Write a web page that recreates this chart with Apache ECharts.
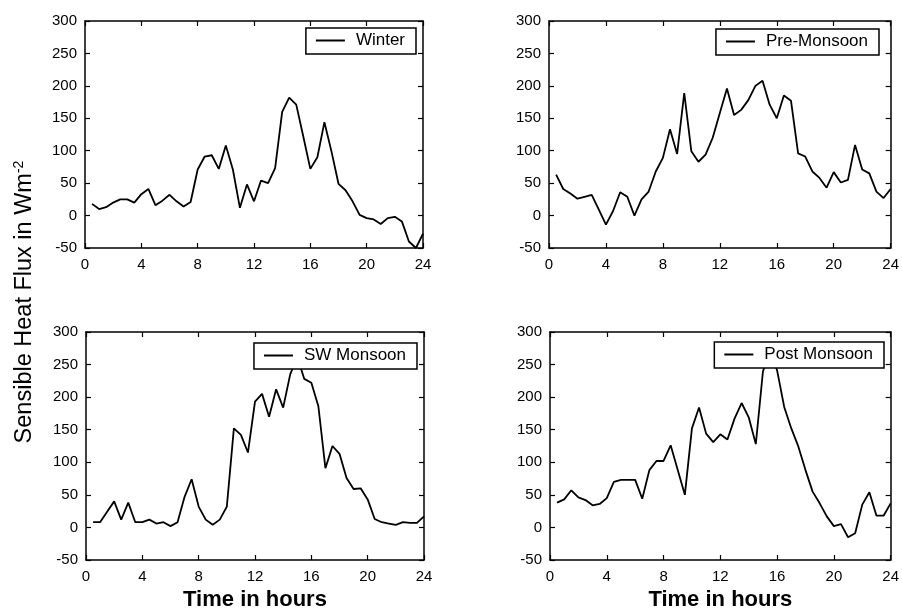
<!DOCTYPE html>
<html>
<head>
<meta charset="utf-8">
<script src="https://cdn.jsdelivr.net/npm/echarts@6/dist/echarts.min.js"></script>
<style>html,body{margin:0;padding:0;background:#fff}#c{width:902px;height:612px}</style>
</head>
<body>
<div id="c"></div>
<script>
var hours = [0.5,1,1.5,2,2.5,3,3.5,4,4.5,5,5.5,6,6.5,7,7.5,8,8.5,9,9.5,10,10.5,11,11.5,12,12.5,13,13.5,14,14.5,15,15.5,16,16.5,17,17.5,18,18.5,19,19.5,20,20.5,21,21.5,22,22.5,23,23.5,24];
var winter = [18,10,13,20,25,25,20,33,41,16,23,32,22,14,21,71,91,93,72,108,71,12,48,22,54,50,73,160,182,171,122,72,90,144,99,49,39,22,1,-4,-6,-13,-4,-2,-9,-40,-50,-28];
var preMonsoon = [63,41,34,26,29,32,9,-14,7,36,29,0,25,37,68,89,133,95,189,99,83,94,120,158,196,155,163,178,200,208,171,150,185,177,96,91,68,58,43,67,51,55,109,71,65,37,27,41];
var swMonsoon = [8,8,24,40,12,38,8,8,12,6,8,2,8,47,74,32,12,4,12,32,152,142,115,193,205,170,212,184,235,262,228,222,186,91,125,113,76,59,60,43,13,8,6,4,8,7,7,17];
var postMonsoon = [38,43,57,46,42,34,36,45,70,73,73,73,44,88,102,102,126,88,50,152,184,144,131,143,135,167,191,169,128,239,275,241,185,152,124,88,55,37,17,2,5,-15,-9,35,54,18,18,37];
var seriesNames = ['Winter','Pre-Monsoon','SW Monsoon','Post Monsoon'];
var seriesValues = [winter, preMonsoon, swMonsoon, postMonsoon];
var xTicks = {min:0, max:24, interval:4};
var yTicks = {min:-50, max:300, interval:50};

var FONT = '"Liberation Sans", Arial, sans-serif';
var grids = [
  {left:85, top:21, width:338, height:227},
  {left:549, top:21, width:342, height:227},
  {left:86, top:332, width:338, height:228},
  {left:550, top:332, width:342, height:228}
];
var legendPos = [
  {right:486, top:28},
  {right:23, top:29},
  {right:485, top:343},
  {right:18, top:342}
];

var option = {
  animation:false,
  backgroundColor:'#fff',
  grid:[], xAxis:[], yAxis:[], series:[], legend:[],
  graphic:[{
    type:'text', x:25, y:302, rotation:Math.PI/2,
    style:{
      text:'{m|Sensible Heat Flux in Wm}{s|-2}',
      align:'center', verticalAlign:'middle',
      rich:{
        m:{fontSize:23.5, fontFamily:FONT, fill:'#000', fontWeight:'normal'},
        s:{fontSize:14, fontFamily:FONT, fill:'#000', verticalAlign:'top', padding:[0,0,12,0]}
      }
    }
  }]
};

function lineStyleAxis(){ return {show:true, onZero:false, lineStyle:{color:'#000', width:1.5}}; }

for (var i=0;i<4;i++){
  var g = grids[i];
  option.grid.push({left:g.left, top:g.top, width:g.width, height:g.height, show:false});
  var bottomRow = i>=2;
  option.xAxis.push({
    type:'value', gridIndex:i, min:xTicks.min, max:xTicks.max, interval:xTicks.interval,
    position:'bottom',
    axisLine:lineStyleAxis(),
    axisTick:{show:true, inside:true, length:5, lineStyle:{color:'#000', width:1.2}},
    axisLabel:{color:'#000', fontSize:15, fontFamily:FONT, margin:9},
    splitLine:{show:false},
    name: bottomRow ? 'Time in hours' : '',
    nameLocation:'middle', nameGap:29,
    nameTextStyle:{color:'#000', fontSize:22, fontFamily:FONT, fontWeight:'bold'}
  });
  option.xAxis.push({
    type:'value', gridIndex:i, min:xTicks.min, max:xTicks.max, interval:xTicks.interval,
    position:'top',
    axisLine:lineStyleAxis(),
    axisTick:{show:true, inside:true, length:5, lineStyle:{color:'#000', width:1.2}},
    axisLabel:{show:false}, splitLine:{show:false}
  });
  option.yAxis.push({
    type:'value', gridIndex:i, min:yTicks.min, max:yTicks.max, interval:yTicks.interval,
    position:'left',
    axisLine:lineStyleAxis(),
    axisTick:{show:true, inside:true, length:5, lineStyle:{color:'#000', width:1.2}},
    axisLabel:{color:'#000', fontSize:15, fontFamily:FONT, margin:8},
    splitLine:{show:false}
  });
  option.yAxis.push({
    type:'value', gridIndex:i, min:yTicks.min, max:yTicks.max, interval:yTicks.interval,
    position:'right',
    axisLine:lineStyleAxis(),
    axisTick:{show:true, inside:true, length:5, lineStyle:{color:'#000', width:1.2}},
    axisLabel:{show:false}, splitLine:{show:false}
  });
  var vals = seriesValues[i];
  var data = [];
  for (var k=0;k<hours.length;k++) data.push([hours[k], vals[k]]);
  option.series.push({
    type:'line', name:seriesNames[i], xAxisIndex:2*i, yAxisIndex:2*i,
    data:data, showSymbol:false, symbol:'none', clip:true,
    lineStyle:{color:'#000', width:1.8}, itemStyle:{color:'#000'}, z:2
  });
  option.legend.push({
    data:[seriesNames[i]], right:legendPos[i].right, top:legendPos[i].top,
    backgroundColor:'#fff', borderColor:'#000', borderWidth:1.5, borderRadius:0,
    padding:[4,11,5,10], icon:'rect', itemWidth:29, itemHeight:2,
    itemStyle:{color:'#000'}, selectedMode:false,
    textStyle:{color:'#000', fontSize:17, fontFamily:FONT, padding:[0,0,0,6]}, z:10
  });
}

var chart = echarts.init(document.getElementById('c'), null, {renderer:'canvas'});
chart.setOption(option);
</script>
</body>
</html>
